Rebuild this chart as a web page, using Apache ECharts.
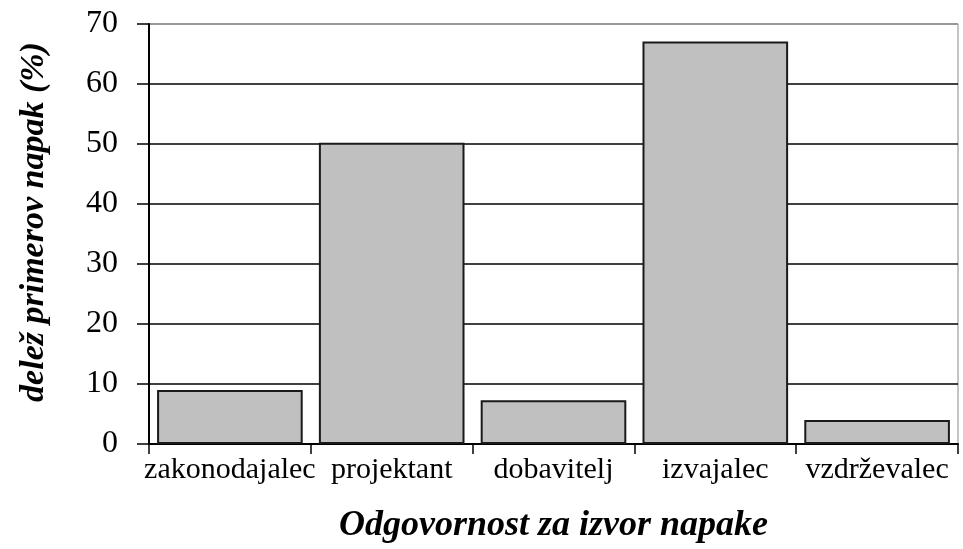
<!DOCTYPE html>
<html>
<head>
<meta charset="utf-8">
<script src="https://cdn.jsdelivr.net/npm/echarts@6/dist/echarts.min.js"></script>
<style>
html,body{margin:0;padding:0;background:#fff;}
#chart{width:963px;height:549px;}
</style>
</head>
<body>
<div id="chart"></div>
<script>
const categories = ['zakonodajalec', 'projektant', 'dobavitelj', 'izvajalec', 'vzdrževalec'];
const shares = [9.0, 50.2, 7.3, 67.1, 4.0];
const yTicks = [0, 10, 20, 30, 40, 50, 60, 70];
const xTitle = 'Odgovornost za izvor napake';
const yTitle = 'delež primerov napak (%)';

const chart = echarts.init(document.getElementById('chart'), null, {renderer: 'canvas'});
const serif = '"Liberation Serif", "Times New Roman", serif';
chart.setOption({
  animation: false,
  backgroundColor: '#ffffff',
  grid: {left: 149, right: 5, top: 24, bottom: 104, show: true, borderColor: '#8a8a8a', borderWidth: 1},
  xAxis: {
    type: 'category',
    data: categories,
    name: xTitle,
    nameLocation: 'middle',
    nameGap: 64,
    nameTextStyle: {fontFamily: serif, fontSize: 36, fontWeight: 'bold', fontStyle: 'italic', color: '#000'},
    axisLine: {lineStyle: {color: '#000', width: 2}},
    axisTick: {show: true, length: 10, alignWithLabel: false, lineStyle: {color: '#000', width: 1.5}},
    axisLabel: {fontFamily: serif, fontSize: 30, color: '#000', margin: 11, interval: 0}
  },
  yAxis: {
    type: 'value',
    min: yTicks[0],
    max: yTicks[yTicks.length - 1],
    interval: 10,
    name: yTitle,
    nameLocation: 'middle',
    nameGap: 98,
    nameTextStyle: {fontFamily: serif, fontSize: 34, fontWeight: 'bold', fontStyle: 'italic', color: '#000', padding: [0, 0, 0, 24]},
    axisLine: {show: true, lineStyle: {color: '#000', width: 2}},
    axisTick: {show: true, length: 12, lineStyle: {color: '#000', width: 1.5}},
    axisLabel: {fontFamily: serif, fontSize: 32, color: '#000', margin: 31},
    splitLine: {show: true, lineStyle: {color: ['#000', '#000', '#000', '#000', '#000', '#000', '#000', '#8a8a8a'], width: 1.5}}
  },
  series: [{
    type: 'bar',
    data: shares,
    barCategoryGap: '10%',
    itemStyle: {color: '#c0c0c0', borderColor: '#1a1a1a', borderWidth: 2}
  }]
});
</script>
</body>
</html>
